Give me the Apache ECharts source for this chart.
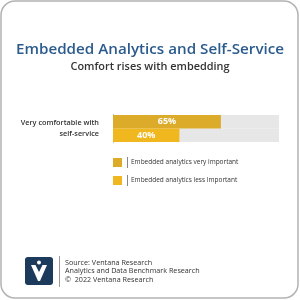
<!DOCTYPE html>
<html>
<head>
<meta charset="utf-8">
<script src="https://cdn.jsdelivr.net/npm/echarts@6/dist/echarts.min.js"></script>
<style>html,body{margin:0;padding:0;background:#fff}#c{width:300px;height:300px}</style>
</head>
<body>
<div id="c"></div>
<script>
const categories = ['Very comfortable with\nself-service'];
const seriesNames = ['Embedded analytics very important', 'Embedded analytics less Important'];
const veryImportant = [65];
const lessImportant = [40];
const axisMax = 100;

const chart = echarts.init(document.getElementById('c'), null, {renderer: 'canvas'});
const font = '"Open Sans", "Noto Sans", sans-serif';
const labelCfg = {show: true, position: 'inside', color: '#fff', fontWeight: 'bold', fontSize: 9, fontFamily: font, formatter: '{c}%'};
chart.setOption({
  animation: false,
  title: [
    {text: 'Embedded Analytics and Self-Service', left: 'center', top: 37,
     textStyle: {fontFamily: font, fontSize: 15.2, fontWeight: 600, color: '#2b5b8d'}},
    {text: 'Comfort rises with embedding', left: 'center', top: 56,
     textStyle: {fontFamily: font, fontSize: 10.9, fontWeight: 600, color: '#333'}}
  ],
  grid: {left: 113, right: 21, top: 115, height: 27, containLabel: false},
  xAxis: {type: 'value', min: 0, max: axisMax, show: false},
  yAxis: {type: 'category', data: categories, inverse: true, offset: 8,
    axisLine: {show: true, lineStyle: {color: '#666', width: 1}},
    axisTick: {show: false},
    axisLabel: {margin: 6, color: '#333', fontSize: 7.3, fontWeight: 600, fontFamily: font, lineHeight: 10.5, align: 'right'}},
  legend: {orient: 'vertical', left: 113, top: 158, padding: 0, itemWidth: 9, itemHeight: 9, itemGap: 9,
    icon: 'rect', selectedMode: false,
    textStyle: {fontFamily: font, fontSize: 6.5, color: '#333', padding: [0, 0, 0, 4]},
    data: seriesNames},
  series: [
    {name: seriesNames[0], type: 'bar', data: veryImportant, barGap: '0%', barCategoryGap: '0%',
     itemStyle: {color: '#ddab2a'}, showBackground: true, backgroundStyle: {color: '#e6e7e6'}, label: labelCfg},
    {name: seriesNames[1], type: 'bar', data: lessImportant, barGap: '0%', barCategoryGap: '0%',
     itemStyle: {color: '#f0b81e'}, showBackground: true, backgroundStyle: {color: '#e6e7e6'}, label: labelCfg}
  ],
  graphic: [
    {type: 'rect', shape: {x: 1, y: 1, width: 297, height: 297, r: 14}, style: {fill: 'none', stroke: '#b3b3b3', lineWidth: 1.5}, z: 100},
    {type: 'line', shape: {x1: 127.5, y1: 157, x2: 127.5, y2: 168}, style: {stroke: '#888', lineWidth: 1}},
    {type: 'line', shape: {x1: 127.5, y1: 175, x2: 127.5, y2: 186}, style: {stroke: '#888', lineWidth: 1}},
    {type: 'rect', shape: {x: 25, y: 257, width: 28, height: 28, r: 3}, style: {fill: '#1b3a5c'}},
    {type: 'polygon', shape: {points: [[31,265],[35.5,265],[39,272],[42.5,265],[47,265],[40,281],[38,281]]}, style: {fill: '#fff'}},
    {type: 'circle', shape: {cx: 39, cy: 262.5, r: 2}, style: {fill: '#fff'}},
    {type: 'line', shape: {x1: 59.5, y1: 256, x2: 59.5, y2: 287}, style: {stroke: '#999', lineWidth: 1}},
    {type: 'text', left: 65, top: 258.5, style: {text: 'Source: Ventana Research\nAnalytics and Data Benchmark Research\n©  2022 Ventana Research', fontFamily: font, fontSize: 7.2, lineHeight: 8.6, fill: '#333'}}
  ]
});
</script>
</body>
</html>
